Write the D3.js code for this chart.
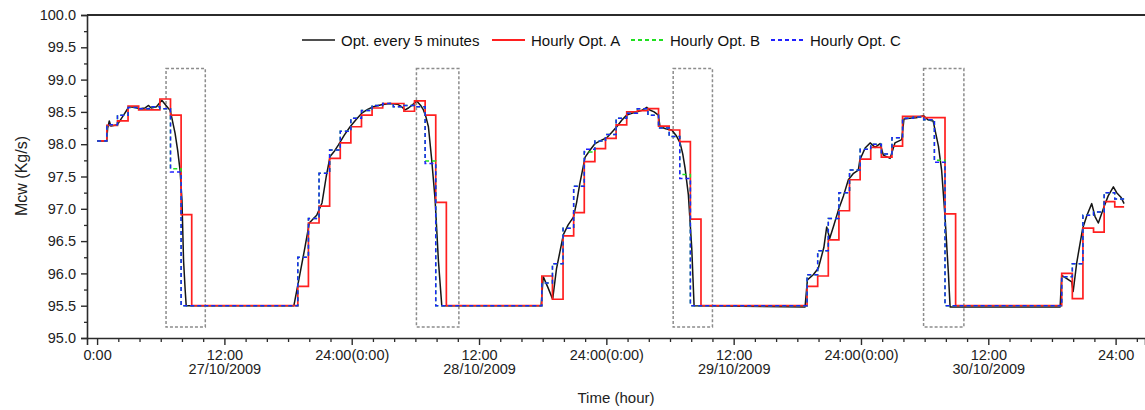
<!DOCTYPE html>
<html>
<head>
<meta charset="utf-8">
<script src="https://cdn.jsdelivr.net/npm/d3@7"></script>
<style>
  body { margin: 0; background: #fff; }
  svg { display: block; font-family: "Liberation Sans", Arial, sans-serif; }
</style>
</head>
<body>
<svg id="chart" width="1145" height="410"></svg>
<script>
// ---- data -----------------------------------------------------------------
// Continuous optimisation (every 5 minutes): time in hours from 0:00 on 27/10/2009, Mcw in kg/s
const fiveMinTime = [
  0.0, 0.9, 1.0, 1.15, 1.3, 1.9, 2.5, 3.0, 3.5, 4.0, 4.5, 4.85, 5.1, 5.6, 6.1, 6.5, 6.9, 7.35, 7.6, 7.82, 8.0, 8.15, 8.3, 8.4,
  18.55, 19.13, 19.6, 20.0, 20.4, 20.7, 21.2, 21.6, 21.96, 22.4, 22.75, 23.3, 23.85, 24.4, 24.95, 25.5, 26.04, 26.8, 27.6,
  28.3, 28.7, 29.03, 29.35, 29.66, 30.13, 30.5, 30.76, 31.0, 31.23, 31.54, 31.86, 32.17, 32.49,
  41.85, 42.05, 42.5, 42.94, 43.3, 43.95, 44.4, 44.9, 45.2, 45.5, 46.0, 46.47, 46.94, 47.5, 48.04, 48.5, 48.98, 49.45,
  49.92, 50.4, 50.87, 51.3, 51.81, 52.1, 52.5, 52.9, 53.06, 53.6, 54.16, 54.6, 54.95, 55.2, 55.42, 55.73, 56.05, 56.27,
  66.73, 66.95, 67.5, 67.98, 68.5, 68.77, 69.05, 69.45, 69.87, 70.35, 70.81, 71.3, 71.75, 71.9, 72.39, 72.86, 73.33,
  73.8, 74.11, 74.74, 75.2, 75.84, 76.05, 76.6, 77.2, 77.9, 78.3, 78.8, 79.3, 79.6, 79.92, 80.24, 80.4,
  90.77, 90.92, 91.4, 91.86, 92.0, 92.33, 92.9, 93.3, 93.75, 94.06, 94.37, 94.91, 95.3, 95.79, 96.1, 96.5, 96.8
];
const fiveMinMcw = [
  98.05, 98.05, 98.25, 98.36, 98.28, 98.30, 98.45, 98.58, 98.57, 98.55, 98.56, 98.60, 98.56, 98.58, 98.68, 98.60, 98.52, 98.17, 97.90, 97.60, 97.14, 96.20, 95.75, 95.50,
  95.50, 96.00, 96.41, 96.78, 96.85, 96.90, 97.09, 97.50, 97.81, 97.90, 97.99, 98.14, 98.27, 98.38, 98.48, 98.54, 98.58, 98.61, 98.63,
  98.62, 98.58, 98.53, 98.56, 98.60, 98.67, 98.60, 98.53, 98.42, 98.27, 97.76, 97.14, 96.20, 95.50,
  95.50, 95.95, 95.78, 95.60, 96.07, 96.60, 96.75, 96.87, 97.10, 97.39, 97.80, 97.91, 98.01, 98.06, 98.10, 98.18, 98.27, 98.37,
  98.45, 98.48, 98.50, 98.52, 98.57, 98.53, 98.50, 98.45, 98.27, 98.24, 98.22, 98.13, 98.02, 97.85, 97.63, 97.22, 96.39, 95.50,
  95.48, 95.90, 95.98, 96.08, 96.40, 96.72, 96.54, 96.75, 96.98, 97.20, 97.45, 97.55, 97.60, 97.76, 97.94, 98.02, 97.95,
  98.01, 97.83, 97.78, 98.02, 98.07, 98.39, 98.40, 98.41, 98.44, 98.38, 98.36, 97.97, 97.60, 96.88, 96.00, 95.48,
  95.48, 95.97, 95.92, 95.87, 95.72, 96.16, 96.70, 96.90, 97.08, 96.88, 96.78, 97.03, 97.20, 97.34, 97.25, 97.18, 97.08
];

// Hourly optimisations: one set-point per hour (hour 0 .. 96)
const hourlyA = [
  98.05, 98.29, 98.36, 98.59, 98.53, 98.53, 98.70, 98.45, 96.91,
  95.5, 95.5, 95.5, 95.5, 95.5, 95.5, 95.5, 95.5, 95.5, 95.5,
  95.80, 96.78, 97.04, 97.78, 98.02, 98.27, 98.45, 98.56, 98.63, 98.63, 98.51, 98.67, 98.45, 97.10,
  95.5, 95.5, 95.5, 95.5, 95.5, 95.5, 95.5, 95.5, 95.5,
  95.96, 95.60, 96.58, 96.94, 97.73, 97.93, 98.09, 98.30, 98.50, 98.52, 98.55, 98.28, 98.22, 98.04, 96.84,
  95.5, 95.5, 95.5, 95.5, 95.5, 95.5, 95.5, 95.5, 95.5, 95.5,
  95.80, 95.96, 96.52, 96.97, 97.45, 97.77, 97.95, 97.80, 97.97, 98.43, 98.43, 98.41, 98.41, 96.92,
  95.5, 95.5, 95.5, 95.5, 95.5, 95.5, 95.5, 95.5, 95.5, 95.5,
  96.00, 95.61, 96.70, 96.64, 97.11, 97.03
];
const hourlyB = [
  98.05, 98.30, 98.45, 98.57, 98.55, 98.58, 98.55, 97.62, 95.5,
  95.5, 95.5, 95.5, 95.5, 95.5, 95.5, 95.5, 95.5, 95.5, 95.5,
  96.25, 96.85, 97.55, 97.91, 98.20, 98.40, 98.52, 98.60, 98.63, 98.58, 98.60, 98.58, 97.74, 95.5,
  95.5, 95.5, 95.5, 95.5, 95.5, 95.5, 95.5, 95.5, 95.5,
  95.85, 96.15, 96.70, 97.35, 97.88, 98.05, 98.15, 98.40, 98.48, 98.55, 98.45, 98.25, 98.12, 97.53, 95.5,
  95.5, 95.5, 95.5, 95.5, 95.5, 95.5, 95.5, 95.5, 95.5, 95.5,
  95.98, 96.35, 96.85, 97.25, 97.60, 97.92, 98.00, 97.85, 98.10, 98.40, 98.42, 98.38, 97.75, 95.5,
  95.5, 95.5, 95.5, 95.5, 95.5, 95.5, 95.5, 95.5, 95.5, 95.5,
  95.95, 96.15, 96.90, 96.95, 97.25, 97.15
];
const hourlyC = [
  98.05, 98.30, 98.45, 98.57, 98.55, 98.58, 98.55, 97.57, 95.5,
  95.5, 95.5, 95.5, 95.5, 95.5, 95.5, 95.5, 95.5, 95.5, 95.5,
  96.25, 96.85, 97.55, 97.91, 98.20, 98.40, 98.52, 98.60, 98.63, 98.58, 98.60, 98.58, 97.70, 95.5,
  95.5, 95.5, 95.5, 95.5, 95.5, 95.5, 95.5, 95.5, 95.5,
  95.85, 96.15, 96.70, 97.35, 97.92, 98.05, 98.15, 98.40, 98.48, 98.55, 98.45, 98.25, 98.12, 97.47, 95.5,
  95.5, 95.5, 95.5, 95.5, 95.5, 95.5, 95.5, 95.5, 95.5, 95.5,
  95.98, 96.35, 96.85, 97.25, 97.60, 97.92, 98.00, 97.85, 98.10, 98.40, 98.42, 98.38, 97.72, 95.5,
  95.5, 95.5, 95.5, 95.5, 95.5, 95.5, 95.5, 95.5, 95.5, 95.5,
  95.95, 96.15, 96.90, 96.95, 97.25, 97.15
];
const hourlyShift = -0.08;   // set-points are applied a few minutes before the hour
const seriesEnd = 96.8;      // last sample (hours)

// Highlighted transition windows [start hour, end hour, low Mcw, high Mcw]
const windowStart = [6.5, 30.1, 54.3, 77.9];
const windowEnd = [10.2, 34.1, 58.0, 81.7];
const windowLow = 95.17;
const windowHigh = 99.17;

// Axis ticks
const xMajorTicks = [0, 12, 24, 36, 48, 60, 72, 84, 96];
const xTickLabels = [
  ["0:00"], ["12:00", "27/10/2009"], ["24:00(0:00)"], ["12:00", "28/10/2009"], ["24:00(0:00)"],
  ["12:00", "29/10/2009"], ["24:00(0:00)"], ["12:00", "30/10/2009"], ["24:00"]
];
const yMajorTicks = [95.0, 95.5, 96.0, 96.5, 97.0, 97.5, 98.0, 98.5, 99.0, 99.5, 100.0];

const legendNames = ["Opt. every 5 minutes", "Hourly Opt. A", "Hourly Opt. B", "Hourly Opt. C"];

// ---- layout ----------------------------------------------------------------
const svg = d3.select("#chart");
const plotLeft = 87, plotRight = 1145, plotTop = 15, plotBottom = 338;

const x = d3.scaleLinear().domain([-0.95, 98.77]).range([plotLeft, plotRight]);
const y = d3.scaleLinear().domain([95, 100]).range([plotBottom, plotTop]);

const axisColor = "#2b2b2b";
const colors = { black: "#151515", red: "#ff1f1f", green: "#1fe01f", blue: "#1f1fff", box: "#8c8c8c" };

// ---- axes ------------------------------------------------------------------
const xMinor = d3.range(0, 99, 2).filter(h => h % 12 !== 0);
const gxMinor = svg.append("g").attr("transform", `translate(0,${plotBottom})`)
  .call(d3.axisBottom(x).tickValues(xMinor).tickSize(4).tickFormat(""));
gxMinor.select(".domain").remove();
gxMinor.selectAll("line").attr("stroke", axisColor).attr("stroke-width", 1.3);

const gx = svg.append("g").attr("transform", `translate(0,${plotBottom})`)
  .call(d3.axisBottom(x).tickValues(xMajorTicks).tickSize(7).tickPadding(5).tickFormat(""));
gx.select(".domain").attr("stroke", axisColor).attr("stroke-width", 1.6);
gx.selectAll("line").attr("stroke", axisColor).attr("stroke-width", 1.4);
gx.selectAll(".tick").each(function (d, i) {
  const t = d3.select(this).select("text")
    .attr("fill", "#222").attr("font-size", 14.5).attr("dy", null).attr("y", 21.5);
  xTickLabels[i].forEach((s, j) => {
    t.append("tspan").attr("x", 0).attr("dy", j === 0 ? 0 : 14).text(s);
  });
});

const yMinor = d3.range(95.25, 100, 0.5);
const gyMinor = svg.append("g").attr("transform", `translate(${plotLeft},0)`)
  .call(d3.axisLeft(y).tickValues(yMinor).tickSize(3).tickFormat(""));
gyMinor.select(".domain").remove();
gyMinor.selectAll("line").attr("stroke", axisColor).attr("stroke-width", 1.3);

const gy = svg.append("g").attr("transform", `translate(${plotLeft},0)`)
  .call(d3.axisLeft(y).tickValues(yMajorTicks).tickSize(6).tickPadding(5).tickFormat(d3.format(".1f")));
gy.select(".domain").attr("stroke", axisColor).attr("stroke-width", 1.6);
gy.selectAll("line").attr("stroke", axisColor).attr("stroke-width", 1.4);
gy.selectAll("text").attr("fill", "#222").attr("font-size", 14.5);

// top frame line
svg.append("line").attr("x1", plotLeft).attr("x2", plotRight).attr("y1", plotTop).attr("y2", plotTop)
  .attr("stroke", axisColor).attr("stroke-width", 2.2);

// axis titles
svg.append("text").attr("transform", `translate(21,176) rotate(-90)`)
  .attr("text-anchor", "middle").attr("dominant-baseline", "central")
  .attr("font-size", 16).attr("fill", "#222").text("Mcw (Kg/s)");
svg.append("text").attr("x", 616).attr("y", 403).attr("text-anchor", "middle")
  .attr("font-size", 15).attr("fill", "#222").text("Time (hour)");

// ---- transition windows ------------------------------------------------------
svg.append("g").selectAll("rect").data(windowStart).join("rect")
  .attr("x", (d) => x(d))
  .attr("width", (d, i) => x(windowEnd[i]) - x(d))
  .attr("y", y(windowHigh))
  .attr("height", y(windowLow) - y(windowHigh))
  .attr("fill", "none").attr("stroke", colors.box).attr("stroke-width", 1.5)
  .attr("stroke-dasharray", "3,2");

// ---- series ------------------------------------------------------------------
const plot = svg.append("g");
const lineLinear = d3.line().x(d => x(d[0])).y(d => y(d[1]));
const lineStep = d3.line().x(d => x(d[0])).y(d => y(d[1])).curve(d3.curveStepAfter);

function hourlyPoints(vals) {
  const pts = vals.map((v, k) => [Math.max(0, k + hourlyShift), v]);
  pts.push([seriesEnd, vals[vals.length - 1]]);
  return pts;
}

plot.append("path").datum(fiveMinTime.map((t, i) => [t, fiveMinMcw[i]]))
  .attr("d", lineLinear).attr("fill", "none")
  .attr("stroke", colors.black).attr("stroke-width", 1.5).attr("stroke-linejoin", "round");

plot.append("path").datum(hourlyPoints(hourlyA))
  .attr("d", lineStep).attr("fill", "none")
  .attr("stroke", colors.red).attr("stroke-width", 1.7);

plot.append("path").datum(hourlyPoints(hourlyB))
  .attr("d", lineStep).attr("fill", "none")
  .attr("stroke", colors.green).attr("stroke-width", 1.5).attr("stroke-dasharray", "4,3");

plot.append("path").datum(hourlyPoints(hourlyC))
  .attr("d", lineStep).attr("fill", "none")
  .attr("stroke", colors.blue).attr("stroke-width", 1.5).attr("stroke-dasharray", "4,3");

// ---- legend -------------------------------------------------------------------
const legendX = [302, 492, 631, 771];
const legendColors = [colors.black, colors.red, colors.green, colors.blue];
const legendDash = [null, null, "4,3", "4,3"];
const lg = svg.append("g");
legendNames.forEach((name, i) => {
  lg.append("line").attr("x1", legendX[i]).attr("x2", legendX[i] + 33).attr("y1", 40).attr("y2", 40)
    .attr("stroke", legendColors[i]).attr("stroke-width", i === 0 ? 1.6 : 1.8)
    .attr("stroke-dasharray", legendDash[i]);
  lg.append("text").attr("x", legendX[i] + 39).attr("y", 45.5)
    .attr("font-size", 15).attr("fill", "#111").text(name);
});
</script>
</body>
</html>
